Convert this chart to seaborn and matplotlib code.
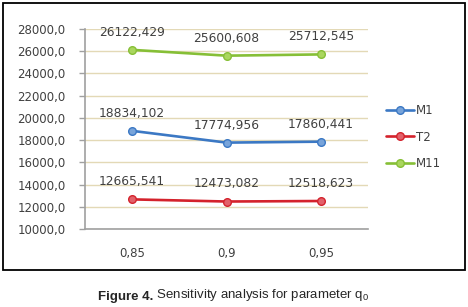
import matplotlib
matplotlib.use("Agg")
import matplotlib.pyplot as plt
import seaborn as sns
import pandas as pd
from matplotlib.patches import Rectangle

categories = ["0,85", "0,9", "0,95"]
series_names = ["M1", "T2", "M11"]
m1_values = [18834.102, 17774.956, 17860.441]
t2_values = [12665.541, 12473.082, 12518.623]
m11_values = [26122.429, 25600.608, 25712.545]
y_ticks = [10000, 12000, 14000, 16000, 18000, 20000, 22000, 24000, 26000, 28000]

line_colors = {"M1": "#3b78c4", "T2": "#d4222c", "M11": "#86bf36"}
face_colors = {"M1": "#78a4da", "T2": "#e2616a", "M11": "#aad65e"}

rows = []
for name, vals in zip(series_names, [m1_values, t2_values, m11_values]):
    for i, v in enumerate(vals):
        rows.append({"pos": i, "value": v, "series": name})
df = pd.DataFrame(rows)

sns.set_theme(style="white")
plt.rcParams["font.family"] = ["DejaVu Sans"]
plt.rcParams["mathtext.fontset"] = "custom"
plt.rcParams["mathtext.rm"] = "Liberation Sans"
plt.rcParams["mathtext.it"] = "Liberation Sans"

fig = plt.figure(figsize=(4.68, 3.07), dpi=100)
W, H = 468, 307
ax = fig.add_axes([85 / W, 1 - 229 / H, (368 - 85) / W, (229 - 29) / H])

for name in series_names:
    sub = df[df["series"] == name]
    sns.lineplot(data=sub, x="pos", y="value", ax=ax, color=line_colors[name],
                 linewidth=1.9, marker="o", markersize=5.5,
                 markerfacecolor=face_colors[name], markeredgecolor=line_colors[name],
                 markeredgewidth=1.0, label=name)
    for x, y in zip(sub["pos"], sub["value"]):
        lbl = f"{y:.3f}".replace(".", ",")
        ax.annotate(lbl, (x, y), xytext=(0, 8), textcoords="offset points",
                    ha="center", va="bottom", fontsize=8.8, color="#404040")

ax.set_xlim(-0.5, 2.5)
ax.set_ylim(10000, 28000)
ax.set_yticks(y_ticks)
ax.set_yticklabels([f"{t},0" for t in y_ticks])
ax.set_xticks(range(len(categories)))
ax.set_xticklabels(categories)
ax.set_xticks([-0.5, 0.5, 1.5, 2.5], minor=True)
ax.tick_params(axis="x", which="major", length=0, pad=13, labelsize=8.5, labelcolor="#404040")
ax.tick_params(axis="x", which="minor", length=4, width=1, color="#a0a0a0", direction="out")
ax.tick_params(axis="y", length=4, width=1, color="#a0a0a0", direction="out", pad=10,
               labelsize=8.5, labelcolor="#404040", left=True)
ax.set_xlabel("")
ax.set_ylabel("")
ax.grid(axis="y", color="#e3d9b6", linewidth=1.0)
ax.set_axisbelow(True)
for s in ["top", "right"]:
    ax.spines[s].set_visible(False)
for s in ["left", "bottom"]:
    ax.spines[s].set_color("#a0a0a0")
    ax.spines[s].set_linewidth(1.2)

leg = ax.legend(loc="upper left", bbox_to_anchor=(386 / W, 1 - 104 / H),
                bbox_transform=fig.transFigure, frameon=False, fontsize=8.5,
                handlelength=2.4, handletextpad=0.1, labelspacing=1.15,
                borderaxespad=0, borderpad=0)
for t in leg.get_texts():
    t.set_color("#404040")

fig.patches.append(Rectangle((3 / W, 1 - 270 / H), (465 - 3) / W, (270 - 3) / H,
                             transform=fig.transFigure, fill=False,
                             edgecolor="black", linewidth=1.3))

t1 = fig.text(98 / W, 1 - 300 / H, "Figure 4.", fontsize=9.5, fontweight="bold",
              family="Liberation Sans", ha="left", va="baseline")
ax.annotate(" Sensitivity analysis for parameter q$_0$", xy=(1, 0), xycoords=t1,
            fontsize=9.5, family="Liberation Sans", ha="left", va="bottom",
            annotation_clip=False)

fig.savefig("out.png", dpi=100)
